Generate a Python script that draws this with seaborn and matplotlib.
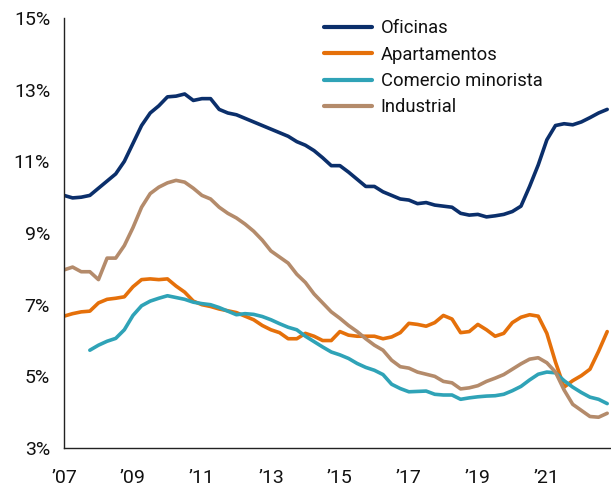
import numpy as np
import pandas as pd
import matplotlib
matplotlib.use("Agg")
import matplotlib.pyplot as plt
import seaborn as sns

# quarterly, 2007Q1 .. 2022Q4
quarters = np.arange(2007, 2023, 0.25)

oficinas = [10.05, 9.98, 10.0, 10.05, 10.25, 10.45, 10.65, 11.0, 11.5, 12.0, 12.35, 12.55,
            12.8, 12.82, 12.88, 12.7, 12.75, 12.75, 12.45, 12.35, 12.3, 12.2, 12.1, 12.0,
            11.9, 11.8, 11.7, 11.55, 11.45, 11.3, 11.1, 10.88, 10.88, 10.7, 10.5, 10.3,
            10.3, 10.15, 10.05, 9.95, 9.92, 9.82, 9.85, 9.78, 9.75, 9.72, 9.55, 9.5,
            9.52, 9.45, 9.48, 9.52, 9.6, 9.75, 10.3, 10.9, 11.6, 12.0, 12.05, 12.02,
            12.1, 12.22, 12.35, 12.45]
apartamentos = [6.68, 6.75, 6.8, 6.82, 7.05, 7.15, 7.18, 7.22, 7.5, 7.7, 7.72, 7.7,
                7.72, 7.52, 7.35, 7.1, 7.0, 6.95, 6.88, 6.83, 6.78, 6.68, 6.58, 6.42,
                6.3, 6.22, 6.05, 6.05, 6.2, 6.12, 6.0, 6.0, 6.25, 6.15, 6.12, 6.12,
                6.12, 6.05, 6.1, 6.22, 6.48, 6.45, 6.4, 6.5, 6.7, 6.6, 6.22, 6.25,
                6.45, 6.3, 6.12, 6.2, 6.5, 6.65, 6.72, 6.68, 6.2, 5.4, 4.7, 4.88,
                5.02, 5.2, 5.7, 6.25]
comercio = [np.nan, np.nan, np.nan, 5.73, 5.87, 5.98, 6.06, 6.3, 6.7, 6.97, 7.1, 7.18,
            7.25, 7.2, 7.15, 7.07, 7.03, 7.0, 6.92, 6.82, 6.72, 6.75, 6.73, 6.67,
            6.58, 6.47, 6.37, 6.3, 6.12, 5.97, 5.82, 5.68, 5.6, 5.5, 5.36, 5.25,
            5.17, 5.05, 4.78, 4.66, 4.57, 4.58, 4.59, 4.5, 4.48, 4.48, 4.36, 4.4,
            4.43, 4.45, 4.46, 4.5, 4.6, 4.72, 4.9, 5.06, 5.12, 5.1, 4.88, 4.7,
            4.55, 4.42, 4.36, 4.24]
industrial = [7.97, 8.05, 7.92, 7.92, 7.7, 8.3, 8.3, 8.65, 9.15, 9.72, 10.1, 10.28,
              10.4, 10.47, 10.42, 10.25, 10.05, 9.95, 9.72, 9.55, 9.42, 9.25, 9.05, 8.8,
              8.5, 8.33, 8.16, 7.85, 7.62, 7.3, 7.05, 6.8, 6.62, 6.42, 6.25, 6.05,
              5.87, 5.73, 5.45, 5.27, 5.23, 5.12, 5.06, 5.0, 4.86, 4.82, 4.65, 4.68,
              4.74, 4.86, 4.95, 5.05, 5.2, 5.35, 5.48, 5.52, 5.38, 5.12, 4.62, 4.22,
              4.05, 3.88, 3.86, 3.97]

series = ["Oficinas", "Apartamentos", "Comercio minorista", "Industrial"]
colors = ["#0b2f6b", "#e5700a", "#2fa3b7", "#b48b6b"]

year_ticks = [2007, 2009, 2011, 2013, 2015, 2017, 2019, 2021]
year_labels = ["\u201907", "\u201909", "\u201911", "\u201913", "\u201915", "\u201917", "\u201919", "\u201921"]
y_ticks = [3, 5, 7, 9, 11, 13, 15]

wide = pd.DataFrame({"t": quarters, "Oficinas": oficinas, "Apartamentos": apartamentos,
                     "Comercio minorista": comercio, "Industrial": industrial})
df = wide.melt(id_vars="t", var_name="serie", value_name="tasa").dropna()

sns.set_style("white")
plt.rcParams["font.family"] = ["Roboto", "DejaVu Sans"]

fig = plt.figure(figsize=(6.11, 4.87), dpi=100)
ax = fig.add_axes([0.1047, 0.080, 0.8953, 0.883])

sns.lineplot(data=df, x="t", y="tasa", hue="serie", hue_order=series,
             palette=colors, linewidth=2.6, ax=ax)

ax.set_xlim(2007, 2022.86)
ax.set_ylim(3, 15)
ax.set_xticks(year_ticks)
ax.set_xticklabels(year_labels)
ax.set_yticks(y_ticks)
ax.set_yticklabels([f"{v}%" for v in y_ticks])
ax.tick_params(axis="both", length=0, labelsize=14, colors="#111111")
ax.tick_params(axis="x", pad=15)
ax.tick_params(axis="y", pad=10)
ax.set_xlabel("")
ax.set_ylabel("")

for side in ["top", "right"]:
    ax.spines[side].set_visible(False)
for side in ["left", "bottom"]:
    ax.spines[side].set_color("#222222")
    ax.spines[side].set_linewidth(1.0)

leg = ax.legend(loc="upper left", bbox_to_anchor=(0.445, 1.035), frameon=False,
                fontsize=13.2, handlelength=2.65, handletextpad=0.45, labelspacing=0.45)
for h in leg.get_lines():
    h.set_linewidth(3)
for t in leg.get_texts():
    t.set_color("#111111")

fig.savefig("out.png", dpi=100)
